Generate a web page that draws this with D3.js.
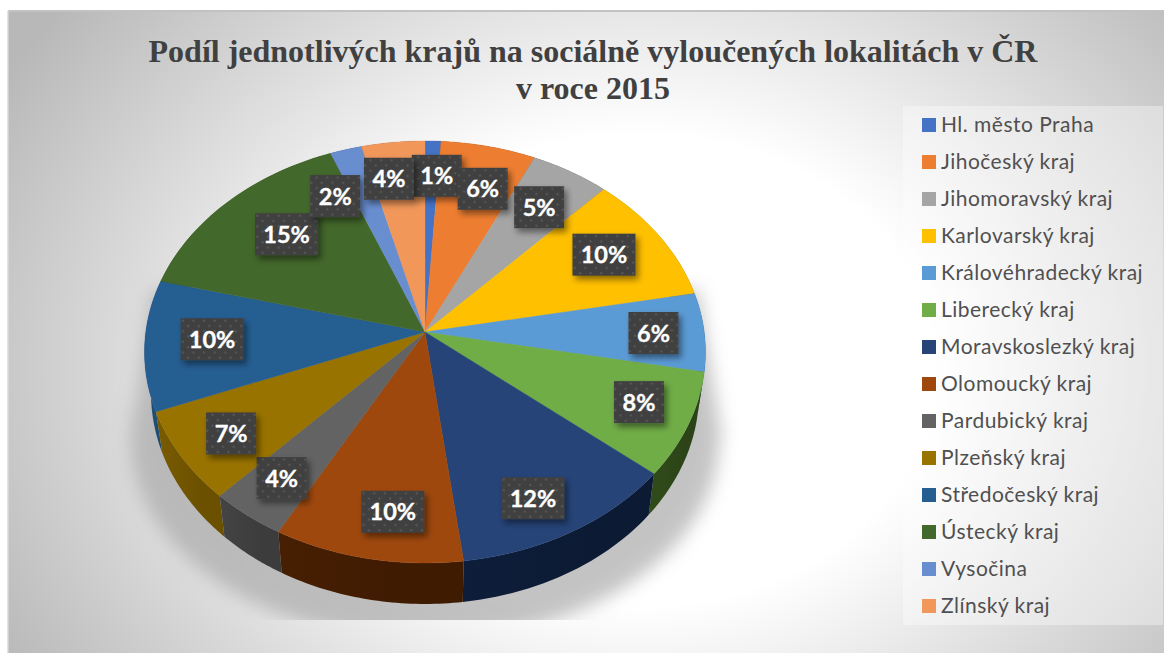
<!DOCTYPE html>
<html><head><meta charset="utf-8">
<script src="https://cdn.jsdelivr.net/npm/d3@7"></script>
<style>html,body{margin:0;padding:0;background:#fff}svg{display:block}</style>
</head><body><svg id="c" width="1164" height="653"></svg>
<script>
const titleLines = ["Podíl jednotlivých krajů na sociálně vyloučených lokalitách v ČR", "v roce 2015"];
const regions = ["Hl. město Praha","Jihočeský kraj","Jihomoravský kraj","Karlovarský kraj","Královéhradecký kraj","Liberecký kraj","Moravskoslezký kraj","Olomoucký kraj","Pardubický kraj","Plzeňský kraj","Středočeský kraj","Ústecký kraj","Vysočina","Zlínský kraj"];
const shares = [1,6,5,10,6,8,12,10,4,7,10,15,2,4];
const faceColors = ["#4472c4","#ed7d31","#a5a5a5","#ffc000","#5b9bd5","#70ad47","#264478","#9e480e","#636363","#997300","#255e91","#43682b","#698ed0","#f1975a"];
const wallColors = ["#1c3050","#6a3810","#4a4a4a","#705800","#24486a","#2b4317","#0c1a33","#3f1b02","#3c3c3c","#6b5000","#1d4a73","#2a4018","#34486a","#6a4228"];
const labelNudge = [[6,-19],[12,-10],[10,-10],[13,-9],[33,1],[32,6],[8,30],[7,26],[-22,21],[-26,16],[-17,-2],[2,-5],[-33,-5],[-13,-17]];

const svg = d3.select("#c");
const defs = svg.append("defs");
const W = 1164, H = 653;

// background
const bg = defs.append("radialGradient").attr("id","bg").attr("gradientUnits","userSpaceOnUse")
  .attr("cx",0).attr("cy",0).attr("r",1)
  .attr("gradientTransform","translate(640,370) scale(735,588)");
[[0,"#fff"],[.4,"#fff"],[1,"#b8b8b8"]].forEach(s=>bg.append("stop").attr("offset",s[0]).attr("stop-color",s[1]));
svg.append("rect").attr("x",8).attr("y",11).attr("width",W-8).attr("height",H-11).attr("fill","url(#bg)");
svg.append("rect").attr("x",8).attr("y",10).attr("width",W-8).attr("height",2).attr("fill","#c2c2c2");
svg.append("rect").attr("x",7).attr("y",11).attr("width",1.5).attr("height",H-11).attr("fill","#e4e4e4");

// pie geometry
const cx = 425, cy = 332, k = 0.0948, a = 279.2, b = 209.1, depth = 41, shrink = 0.977;
const px = d3.scaleLinear().domain([-1,1]).range([cx-a,cx+a]);
const py = d3.scaleLinear().domain([-1,1]).range([cy-b,cy+b]);
function project(theta, r){
  const x = r*Math.sin(theta), y = -r*Math.cos(theta), w = 1-k*y;
  return [px(x/w), py(y/w)];
}
const lower = p => [cx+(p[0]-cx)*shrink, p[1]+depth];
const slices = d3.pie().sort(null).value(d=>d)(shares);
const rim = s => d3.range(0,41).map(i=>project(s.startAngle+(s.endAngle-s.startAngle)*i/40,1));
const line = d3.line();

// cast shadow
defs.append("filter").attr("id","blur").attr("x","-20%").attr("y","-20%").attr("width","140%").attr("height","140%")
  .append("feGaussianBlur").attr("stdDeviation",9);
defs.append("clipPath").attr("id","shadowClip").append("rect").attr("x",0).attr("y",0).attr("width",W).attr("height",620);
const sg = svg.append("g").attr("clip-path","url(#shadowClip)").append("g").attr("filter","url(#blur)").attr("opacity",.68);
sg.append("ellipse").attr("cx",cx).attr("cy",440).attr("rx",294).attr("ry",200).attr("fill","#a8a8a8");
sg.append("path").attr("d",line([[152,290],[698,290],[722,440],[132,440]])).attr("fill","#a8a8a8");

// walls
slices.forEach((s,i)=>{
  const g = defs.append("linearGradient").attr("id","wall"+i);
  g.append("stop").attr("offset",0).attr("stop-color",d3.color(wallColors[i]).brighter(.35));
  g.append("stop").attr("offset",.7).attr("stop-color",wallColors[i]);
});
const order = d3.range(shares.length).sort((i,j)=>project((slices[i].startAngle+slices[i].endAngle)/2,1)[1]-project((slices[j].startAngle+slices[j].endAngle)/2,1)[1]);
svg.append("g").selectAll("path").data(order).join("path")
  .attr("d",i=>{const t=rim(slices[i]);return line(t.concat(t.map(lower).reverse()))+"Z";})
  .attr("fill",i=>`url(#wall${i})`);

// top faces
svg.append("g").selectAll("path").data(slices).join("path")
  .attr("d",s=>line([[cx,cy]].concat(rim(s)))+"Z")
  .attr("fill",(s,i)=>faceColors[i]).attr("stroke",(s,i)=>faceColors[i]).attr("stroke-width",.4);

// labels
const dots = defs.append("pattern").attr("id","dots").attr("patternUnits","userSpaceOnUse").attr("width",10.6).attr("height",10.6);
dots.append("rect").attr("width",10.6).attr("height",10.6).attr("fill","#3f3f3f");
dots.append("circle").attr("cx",2.6).attr("cy",2.6).attr("r",1.2).attr("fill","#575757");
dots.append("circle").attr("cx",7.9).attr("cy",7.9).attr("r",1.2).attr("fill","#575757");
const sh = defs.append("filter").attr("id","ds").attr("x","-30%").attr("y","-30%").attr("width","170%").attr("height","170%");
sh.append("feDropShadow").attr("dx",3).attr("dy",4).attr("stdDeviation",3).attr("flood-color","#000").attr("flood-opacity",.45);
const lab = svg.append("g").selectAll("g").data(slices).join("g").attr("transform",(s,i)=>{
  const p = project((s.startAngle+s.endAngle)/2,.7);
  return `translate(${p[0]+labelNudge[i][0]},${p[1]+labelNudge[i][1]})`;
});
const boxW = d => d.value>=10 ? 63 : 50;
lab.append("rect").attr("x",d=>-boxW(d)/2).attr("y",-21).attr("width",boxW).attr("height",42)
  .attr("fill","url(#dots)").attr("filter","url(#ds)");
lab.append("text").attr("text-anchor","middle").attr("y",8.5).attr("fill","#fff").attr("stroke","#fff").attr("stroke-width",.35)
  .attr("font-family","Lato").attr("font-weight",700).attr("font-size",23.5).text(d=>d.value+"%");

// title
svg.append("g").selectAll("text").data(titleLines).join("text")
  .attr("x",593).attr("y",(d,i)=>62+i*37).attr("text-anchor","middle")
  .attr("font-family","Liberation Serif").attr("font-weight",700).attr("font-size",32).attr("fill","#404040").text(d=>d);

// legend
svg.append("rect").attr("x",903).attr("y",106).attr("width",W-903-1).attr("height",519).attr("fill","#fff").attr("opacity",.36);
const ly = d3.scalePoint().domain(regions).range([125,606]);
const leg = svg.append("g").selectAll("g").data(regions).join("g").attr("transform",d=>`translate(922,${ly(d)})`);
leg.append("rect").attr("y",-7).attr("width",14).attr("height",14).attr("fill",(d,i)=>faceColors[i]);
leg.append("text").attr("x",19).attr("y",7).attr("font-family","Lato").attr("font-size",21).attr("letter-spacing",.48).attr("fill","#505050").text(d=>d);
</script></body></html>
